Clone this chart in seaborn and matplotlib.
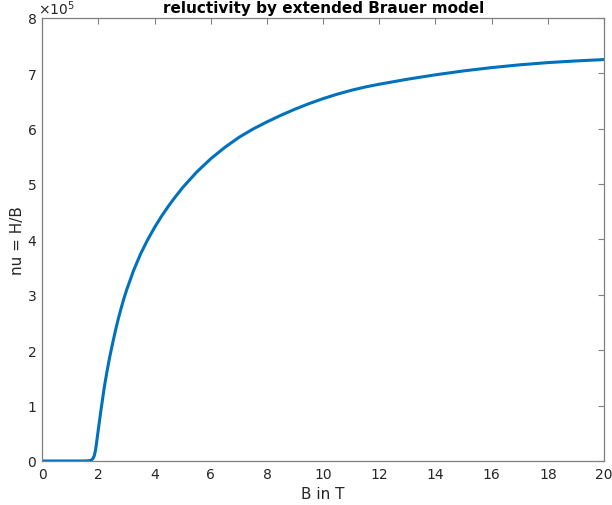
import numpy as np
import pandas as pd
import seaborn as sns
import matplotlib
matplotlib.use("Agg")
import matplotlib.pyplot as plt
from matplotlib.ticker import ScalarFormatter

# flux density B in T
b_values = [0.0, 0.5, 1.0, 1.5, 1.6, 1.7, 1.75, 1.8, 1.85, 1.9, 1.95, 2.0,
            2.1, 2.2, 2.3, 2.4, 2.5, 2.6, 2.7, 2.8, 2.9, 3.0, 3.25, 3.5,
            3.75, 4.0, 4.25, 4.5, 4.75, 5.0, 5.5, 6.0, 6.5, 7.0, 7.5, 8.0,
            8.5, 9.0, 9.5, 10.0, 10.5, 11.0, 11.5, 12.0, 13.0, 14.0, 15.0,
            16.0, 17.0, 18.0, 19.0, 20.0]
# reluctivity nu = H/B, in units of 1e5
nu_values = [0.0, 0.0, 0.0, 0.0, 0.002, 0.008, 0.018, 0.04, 0.09, 0.2, 0.39,
             0.58, 0.95, 1.30, 1.60, 1.87, 2.11, 2.34, 2.55, 2.74, 2.92,
             3.08, 3.435, 3.735, 3.99, 4.215, 4.42, 4.605, 4.775, 4.935,
             5.215, 5.455, 5.66, 5.84, 5.99, 6.12, 6.24, 6.35, 6.45, 6.54,
             6.62, 6.69, 6.75, 6.80, 6.89, 6.97, 7.04, 7.10, 7.15, 7.19,
             7.22, 7.245]

df = pd.DataFrame({"B": b_values, "nu": np.array(nu_values) * 1e5})

sns.set_style("white")
plt.rcParams["font.family"] = ["DejaVu Sans"]

fig = plt.figure(figsize=(6.12, 5.06), dpi=100)
ax = fig.add_axes([0.069, 0.087, 0.918, 0.876])

sns.lineplot(data=df, x="B", y="nu", ax=ax, color="#0072BD", linewidth=2.2)

ax.set_xlim(0, 20)
ax.set_ylim(0, 8e5)
ax.set_xticks(np.arange(0, 21, 2))
ax.set_yticks(np.arange(0, 8.1e5, 1e5))

fmt = ScalarFormatter(useMathText=True)
fmt.set_powerlimits((0, 0))
ax.yaxis.set_major_formatter(fmt)
ax.yaxis.get_offset_text().set_fontsize(10)
ax.yaxis.get_offset_text().set_color("#262626")
ax.yaxis.get_offset_text().set_x(-0.008)

edge = "#808080"
for s in ax.spines.values():
    s.set_visible(True)
    s.set_color(edge)
    s.set_linewidth(0.9)
ax.tick_params(direction="in", length=4, color=edge, labelcolor="#262626",
               labelsize=10, top=True, right=True, labeltop=False,
               labelright=False, pad=4)

ax.set_xlabel("B in T", fontsize=11, color="#262626", labelpad=4)
ax.set_ylabel("nu = H/B", fontsize=11, color="#262626", labelpad=1)
ax.set_title("reluctivity by extended Brauer model", fontsize=11,
             fontweight="bold", color="black", pad=4)

fig.savefig("out.png", dpi=100)
